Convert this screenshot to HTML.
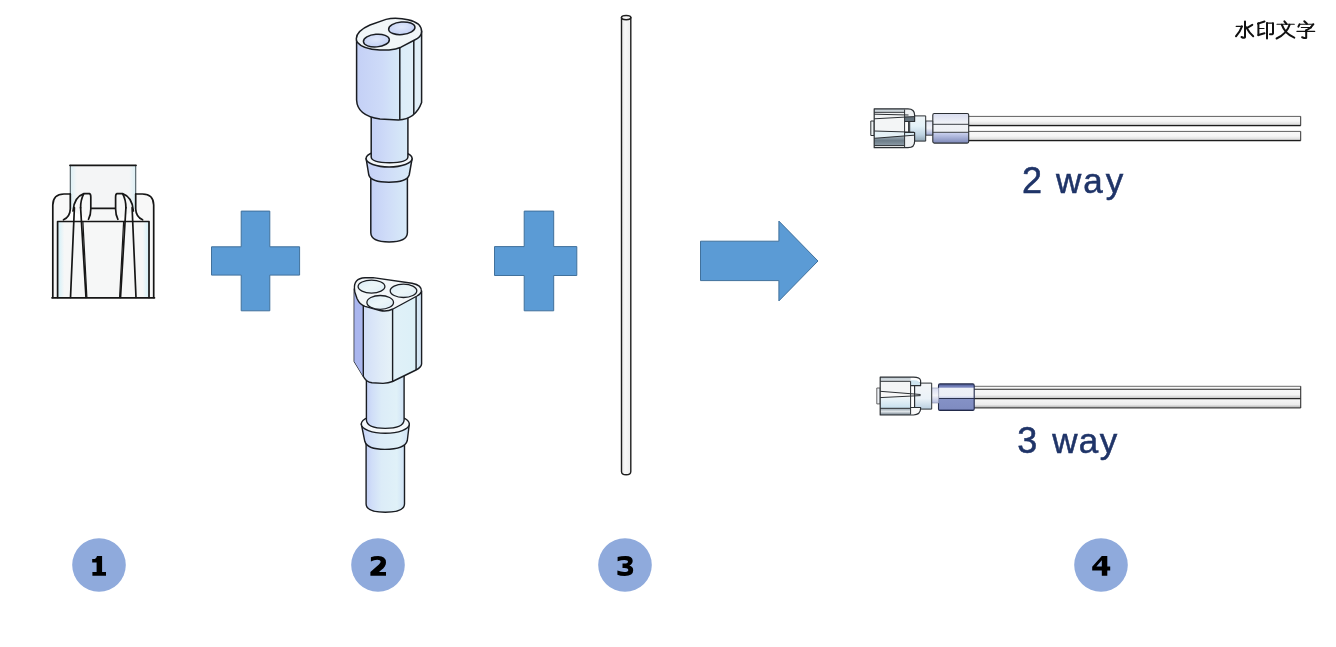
<!DOCTYPE html>
<html><head><meta charset="utf-8">
<style>
html,body{margin:0;padding:0;background:#fff;width:1336px;height:647px;overflow:hidden}
svg{display:block;position:absolute;left:0;top:0;will-change:transform}
</style></head>
<body>
<svg width="1336" height="647" viewBox="0 0 1336 647">
<defs>
  <linearGradient id="gTubeV" x1="0" y1="0" x2="1" y2="0">
    <stop offset="0" stop-color="#c4d0f6"/><stop offset="0.45" stop-color="#cfdcf8"/><stop offset="1" stop-color="#d8ebf8"/>
  </linearGradient>
  <linearGradient id="gBody2" x1="0" y1="0" x2="1" y2="0">
    <stop offset="0" stop-color="#c4d0f6"/><stop offset="0.4" stop-color="#cedbf8"/><stop offset="0.66" stop-color="#d6e9f8"/><stop offset="0.7" stop-color="#dcedf9"/><stop offset="1" stop-color="#e2f0f9"/>
  </linearGradient>
  <linearGradient id="gBody3" x1="0" y1="0" x2="1" y2="0">
    <stop offset="0" stop-color="#aab6ee"/><stop offset="0.134" stop-color="#b4c0f0"/><stop offset="0.14" stop-color="#d2def8"/><stop offset="0.4" stop-color="#e0ecf8"/><stop offset="0.569" stop-color="#e6f2f8"/><stop offset="0.575" stop-color="#e0f1f8"/><stop offset="0.9" stop-color="#dcf0f8"/><stop offset="0.92" stop-color="#d8eaf6"/><stop offset="1" stop-color="#d0e2f4"/>
  </linearGradient>
  <radialGradient id="gHole" cx="0.5" cy="0.4" r="0.6">
    <stop offset="0" stop-color="#dfe8fa"/><stop offset="1" stop-color="#c3d0f4"/>
  </radialGradient>
  <linearGradient id="gPipe" x1="0" y1="0" x2="0" y2="1">
    <stop offset="0" stop-color="#f8f8f8"/><stop offset="0.5" stop-color="#f6f6f6"/><stop offset="0.8" stop-color="#e2e2e2"/><stop offset="1" stop-color="#9a9a9a"/>
  </linearGradient>
  <linearGradient id="gPipe3" x1="0" y1="0" x2="0" y2="1">
    <stop offset="0" stop-color="#f8f8f8"/><stop offset="0.14" stop-color="#f8f8f8"/><stop offset="0.4" stop-color="#f4f4f4"/><stop offset="0.52" stop-color="#cfcfcf"/><stop offset="0.56" stop-color="#f8f8f8"/><stop offset="0.85" stop-color="#ececec"/><stop offset="1" stop-color="#a8a8a8"/>
  </linearGradient>
  <linearGradient id="gSleeve2" x1="0" y1="0" x2="0" y2="1">
    <stop offset="0" stop-color="#d8dcef"/><stop offset="0.35" stop-color="#f2f4f8"/><stop offset="0.63" stop-color="#eef0f4"/><stop offset="0.66" stop-color="#c9d0ee"/><stop offset="1" stop-color="#7d88b8"/>
  </linearGradient>
  <linearGradient id="gSleeve3" x1="0" y1="0" x2="0" y2="1">
    <stop offset="0" stop-color="#4d5a92"/><stop offset="0.08" stop-color="#6a77b2"/><stop offset="0.13" stop-color="#8a95c8"/><stop offset="0.16" stop-color="#eef1f7"/><stop offset="0.45" stop-color="#eceff6"/><stop offset="0.53" stop-color="#c8cfe8"/><stop offset="0.56" stop-color="#8592c6"/><stop offset="0.93" stop-color="#7f8cc1"/><stop offset="1" stop-color="#56629a"/>
  </linearGradient>
  <linearGradient id="gNeck" x1="0" y1="0" x2="0" y2="1">
    <stop offset="0" stop-color="#dfe3f3"/><stop offset="0.5" stop-color="#f3f4f8"/><stop offset="1" stop-color="#9ba6d2"/>
  </linearGradient>
  <linearGradient id="gBlock" x1="0" y1="0" x2="0" y2="1">
    <stop offset="0" stop-color="#eef4f7"/><stop offset="0.4" stop-color="#e4f2f9"/><stop offset="0.75" stop-color="#bed3e2"/><stop offset="1" stop-color="#8ea2b2"/>
  </linearGradient>
  <linearGradient id="gCap" x1="0" y1="0" x2="0" y2="1">
    <stop offset="0" stop-color="#c4ccd2"/><stop offset="0.15" stop-color="#e9eef1"/><stop offset="0.45" stop-color="#f4f6f7"/><stop offset="0.7" stop-color="#d3e5ef"/><stop offset="0.85" stop-color="#8c9ca8"/><stop offset="1" stop-color="#5a6670"/>
  </linearGradient>
  <linearGradient id="gRod" x1="0" y1="0" x2="1" y2="0">
    <stop offset="0" stop-color="#e6e6e6"/><stop offset="0.4" stop-color="#f8f8f8"/><stop offset="1" stop-color="#ececec"/>
  </linearGradient>
  <linearGradient id="gCapBandT" x1="0" y1="0" x2="0" y2="1">
    <stop offset="0" stop-color="#b9c4cb"/><stop offset="1" stop-color="#e4eaee"/>
  </linearGradient>
  <linearGradient id="gCapBandB" x1="0" y1="0" x2="0" y2="1">
    <stop offset="0" stop-color="#a9b8c2"/><stop offset="0.5" stop-color="#6d7d89"/><stop offset="1" stop-color="#8c9ba6"/>
  </linearGradient>
  <linearGradient id="gCyanLow" x1="0" y1="0" x2="0" y2="1">
    <stop offset="0" stop-color="#eef6fa"/><stop offset="1" stop-color="#c6e0ee"/>
  </linearGradient>
  <linearGradient id="gCapBandB3" x1="0" y1="0" x2="0" y2="1">
    <stop offset="0" stop-color="#8e9ea9"/><stop offset="0.5" stop-color="#e0e6ea"/><stop offset="1" stop-color="#6a7884"/>
  </linearGradient>
  <linearGradient id="gBlock3" x1="0" y1="0" x2="0" y2="1">
    <stop offset="0" stop-color="#f4f6f8"/><stop offset="0.6" stop-color="#eaf2f8"/><stop offset="1" stop-color="#b9cfe0"/>
  </linearGradient>
  <linearGradient id="gNeck3" x1="0" y1="0" x2="0" y2="1">
    <stop offset="0" stop-color="#d8dcf2"/><stop offset="0.5" stop-color="#f2f3f8"/><stop offset="1" stop-color="#b4bce0"/>
  </linearGradient>
  <linearGradient id="gHole3" x1="0" y1="0" x2="1" y2="1">
    <stop offset="0" stop-color="#d9ebf6"/><stop offset="0.5" stop-color="#ecf6f8"/><stop offset="1" stop-color="#dcecf6"/>
  </linearGradient>
  <linearGradient id="gTubeV3" x1="0" y1="0" x2="1" y2="0">
    <stop offset="0" stop-color="#c4d0f6"/><stop offset="0.15" stop-color="#d0def8"/><stop offset="0.4" stop-color="#dcecf8"/><stop offset="0.8" stop-color="#e0f1f8"/><stop offset="1" stop-color="#cfe2f6"/>
  </linearGradient>
  <linearGradient id="gCapTop" x1="0" y1="0" x2="1" y2="0">
    <stop offset="0" stop-color="#dcf0f6"/><stop offset="0.1" stop-color="#f4f5f6"/><stop offset="0.9" stop-color="#f4f5f6"/><stop offset="1" stop-color="#dcf0f6"/>
  </linearGradient>
  <linearGradient id="gBlueL" x1="0" y1="0" x2="1" y2="0">
    <stop offset="0" stop-color="#d4f0f8"/><stop offset="1" stop-color="#f6f7f7"/>
  </linearGradient>
  <linearGradient id="gBlueR" x1="1" y1="0" x2="0" y2="0">
    <stop offset="0" stop-color="#d4f0f8"/><stop offset="1" stop-color="#f6f7f7"/>
  </linearGradient>
</defs>
<!-- plus 1 -->
<path d="M241.2,211.1 H269.8 V246.8 H299.6 V275.1 H269.8 V310.8 H241.2 V275.1 H211.5 V246.8 H241.2 Z" fill="#5b9bd5" stroke="#41719c" stroke-width="1"/>
<!-- plus 2 -->
<path d="M524.2,211.1 H553.7 V246.6 H576.8 V275.5 H553.7 V310.8 H524.2 V275.5 H494.5 V246.6 H524.2 Z" fill="#5b9bd5" stroke="#41719c" stroke-width="1"/>
<!-- arrow -->
<path d="M700.5,241.2 H778.9 V221.1 L818,261 L778.9,300.9 V280.6 H700.5 Z" fill="#5b9bd5" stroke="#41719c" stroke-width="1"/>

<!-- circles -->
<g fill="#8faadc">
<circle cx="99" cy="565" r="26.8"/>
<circle cx="378" cy="565" r="26.8"/>
<circle cx="625" cy="565" r="26.8"/>
<circle cx="1101" cy="565" r="26.8"/>
</g>
<g fill="#000">
<path d="M97,555.9 H102.1 V572 H106 V575.7 H92.4 V572 H96.6 V562.6 H92.2 V558.9 H94.8 Q96.4,558.4 97,555.9 Z"/>
<path d="M370.9,557.2 Q374,555.9 378.2,555.9 Q386,555.9 386,562.5 Q386,566.5 381,570.3 L379,572 H386 V575.7 H370.4 V572 L377.2,566 Q380.6,563.2 380.6,561.8 Q380.6,559.8 377.2,559.8 Q374,559.8 370.9,561.6 Z"/>
<path d="M617.6,557 Q621,555.9 625.5,555.9 Q632.7,555.9 632.7,560.8 Q632.7,564 629.3,565.6 Q633.2,566.8 633.2,570.3 Q633.2,575.9 624.8,575.9 Q620,575.9 617.4,574.7 V570.5 Q621,571.9 624.3,571.9 Q628.3,571.9 628.3,569.9 Q628.3,567.9 624.5,567.9 H622.5 V563.6 H624.5 Q628,563.6 628,561.5 Q628,559.9 624.6,559.9 Q621,559.9 617.6,561.2 Z"/>
<path fill-rule="evenodd" d="M1101.8,555.9 H1107.3 V566.6 H1110.2 V570.5 H1107.3 V575.7 H1101.8 V570.5 H1092.2 V566.8 Z M1101.8,560.3 L1096.4,566.6 H1101.8 Z"/>
</g>
<!-- watermark -->
<g fill="none" stroke="#111" stroke-linecap="round" stroke-linejoin="round">
<g stroke-width="2">
<path d="M1245,21.5 V37.2 Q1244.5,38.5 1241.5,37"/>
<path d="M1242,26.4 Q1240,32 1236,36.3"/>
<path d="M1247.2,27.8 L1252.3,24.8"/>
<path d="M1246.3,27.2 Q1249,32.5 1253.2,36.3"/>
<path d="M1258,23.6 L1264.5,21.5"/>
<path d="M1258.4,23.3 V35.2"/>
<path d="M1258.4,35 L1264.5,33.3"/>
<path d="M1267,23 V38.5"/>
<path d="M1273,23.3 V33.5 Q1273,34.5 1270,34.2"/>
<path d="M1284.4,21.4 L1286.5,24"/>
<path d="M1281.8,24.7 Q1285,34 1294.3,37.6"/>
<path d="M1289.6,24.7 Q1287,33.5 1276.6,38.5"/>
<path d="M1304.3,21.2 L1306.9,23.8"/>
<path d="M1299.5,24.4 L1298.4,26.6"/>
<path d="M1313.4,24.2 L1310.8,27.3"/>
<path d="M1311,27.5 L1306,30.5"/>
<path d="M1306.2,30.3 V37.8 Q1305.5,38.5 1302.1,37.2"/>
</g>
<g stroke-width="1.1">
<path d="M1236.2,26.4 H1242"/>
<path d="M1258.8,28.5 H1264"/>
<path d="M1267,23.1 H1273"/>
<path d="M1277,24.2 H1294.3"/>
<path d="M1299.5,24.2 H1313.4"/>
<path d="M1301.3,27.5 H1311"/>
<path d="M1296.9,31.4 H1314.7"/>
</g>
</g>

<!-- labels -->
<g font-family="Liberation Sans" font-size="35" fill="#1f3468" stroke="#1f3468" stroke-width="0.5">
<text transform="translate(1022 192.7) scale(1.03 1.08)">2</text><text x="1056" y="192.7">w</text><text x="1083.2" y="192.7">a</text><text x="1105.8" y="192.7">y</text>
<text transform="translate(1017.3 452.7) scale(1.03 1.08)">3</text><text x="1052.3" y="452.7">w</text><text x="1078.8" y="452.7">a</text><text x="1099.8" y="452.7">y</text>
</g>

<!-- object 1 -->
<g id="obj1" fill="none" stroke="#161616" stroke-width="1.7" stroke-linejoin="round" stroke-linecap="round">
  <rect x="70.3" y="165" width="65.4" height="44" fill="url(#gCapTop)" stroke="none"/>
  <path d="M70.3,209 V165.3 M135.7,165.3 V209" stroke="#4a5a60" stroke-width="1.1"/>
  <path d="M70,165.3 H136" stroke-width="1.8"/>
  <path d="M52.8,297.5 V205 Q53,194 64,194 H70.3 V209 Q70,217 63.5,219.8 H57.6 V297.5 Z" fill="#f8f8f8" stroke="none"/>
  <path d="M153.7,297.5 V205 Q153.5,194 142.5,194 H135.7 V209 Q136,217 142.6,219.8 H148.5 V297.5 Z" fill="#f8f8f8" stroke="none"/>
  <rect x="57.6" y="221" width="90.9" height="76.5" fill="#f6f7f7" stroke="none"/>
  <rect x="58.3" y="221.8" width="6" height="75" fill="url(#gBlueL)" stroke="none"/>
  <rect x="142.7" y="221.8" width="6" height="75" fill="url(#gBlueR)" stroke="none"/>
  <rect x="90.5" y="208" width="26" height="13" fill="#f6f7f7" stroke="none"/>
  <path d="M52.8,297.5 V205 Q53,194 64,194 H70.3"/>
  <path d="M70.3,194 V209 Q70,217 63.5,219.8"/>
  <path d="M153.7,297.5 V205 Q153.5,194 142.5,194 H135.7"/>
  <path d="M135.7,194 V209 Q136,217 142.6,219.8"/>
  <path d="M57.6,297.5 V221.5 H149 V297.5"/>
  <path d="M52,297.8 H154.5" stroke-width="1.7"/>
  <path d="M90.4,208.3 H116.3"/>
  <!-- left finger -->
  <path d="M73,211 Q74,197 83.9,193.6 H89.4 Q90.8,194 90.8,197 V209 Q90.8,215 88.5,219.3" fill="#f7f8f8"/>
  <path d="M83.6,194.2 Q80.6,200 80.6,207.7"/>
  <path d="M74.4,207.7 L70.5,297.5"/>
  <path d="M80.6,207.7 L86,297.5"/>
  <path d="M82.9,221.7 L86.9,297.5" stroke-width="1.2"/>
  <!-- right finger -->
  <path d="M133.4,211 Q132.4,197 122.5,193.6 H117 Q115.6,194 115.6,197 V209 Q115.6,215 117.9,219.3" fill="#f7f8f8"/>
  <path d="M122.8,194.2 Q125.9,200 125.9,207.7"/>
  <path d="M132.1,207.7 L136,297.5"/>
  <path d="M125.9,207.7 L120.5,297.5"/>
  <path d="M123.6,221.7 L119.6,297.5" stroke-width="1.2"/>
</g>

<!-- object 2a: 2-way connector -->
<g id="obj2a" stroke="#1a1d22" stroke-width="1.5" stroke-linejoin="round">
  <!-- lower tube -->
  <path d="M370.8,176 V232.8 Q371,242 389.1,242 Q407.2,242 407.4,232.8 V176 Z" fill="url(#gTubeV)"/>
  <!-- ring -->
  <path d="M366.1,158.5 L368.8,175 Q371,182.2 388.9,182.2 Q407,182.2 409.2,175 L412.1,158.5 Z" fill="url(#gTubeV)"/>
  <ellipse cx="389.1" cy="158.5" rx="23" ry="8.5" fill="#f4f8fb"/>
  <!-- upper tube -->
  <path d="M371.2,115 V157 Q371.5,162.6 389.5,162.8 Q407.5,162.6 407.9,157 V115 Z" fill="url(#gTubeV)"/>
  <!-- body -->
  <path d="M356.6,40 V100 C357,111 366,117 380,119 L398.4,120 C410,119.5 418,112.5 421.6,102.5 V31 Z" fill="url(#gBody2)"/>
  <path d="M399.8,48 V119.8 M413.8,40 V114" fill="none"/>
  <!-- top face -->
  <path d="M356.3,38.7 C356.5,33 362,28.5 370,25 L386,19.4 C392,17.8 398,18.2 402,18.7 L408,19.8 C416,21.5 421.6,25 421.6,31.5 C421.6,36 418,38.5 414.6,40 L401,47.2 C398,48.5 394,49.5 389,50 L379.7,50 C370,49.5 361,47 357.5,42.5 C356.6,41.3 356.3,40 356.3,38.7 Z" fill="#f1f6f8"/>
  <ellipse cx="376.4" cy="40.6" rx="13" ry="6.3" fill="url(#gHole)" transform="rotate(-5 376.4 40.6)" stroke-width="1.5"/>
  <ellipse cx="401.8" cy="28.3" rx="13.2" ry="6.3" fill="url(#gHole)" transform="rotate(-5 401.8 28.3)" stroke-width="1.5"/>
</g>

<!-- object 2b: 3-way connector -->
<g id="obj2b" stroke="#1a1d22" stroke-width="1.4" stroke-linejoin="round">
  <path d="M366.1,440 V504 Q366.3,512.2 385.3,512.2 Q404.3,512.2 404.5,504 V440 Z" fill="url(#gTubeV3)"/>
  <path d="M361.3,424 L364.8,441.3 Q367,449.4 384.9,449.4 Q405,449.4 407.3,440.5 L409.3,424 Z" fill="url(#gTubeV3)"/>
  <ellipse cx="385.3" cy="424" rx="24" ry="9.3" fill="#f4f8fb"/>
  <path d="M366.4,376 V420 Q367,428.2 385.2,428.4 Q403.5,428.2 404.1,420 V376 Z" fill="url(#gTubeV3)"/>
  <!-- body -->
  <path d="M354.3,289 V361.5 L363.4,376.5 C365,380 367,382 372,382.8 L383,383.4 C387,383.2 390,382.5 392.5,381.5 L416,370 C419,368.5 421.5,366.5 421.6,363.9 V291 Z" fill="url(#gBody3)"/>
  <path d="M354.3,289 V361.5 L363.3,376.5 V305 Z" fill="#aab6ee" stroke="none"/>
  <path d="M363.3,305 V376.5 M392.6,309.5 V381.5 M416.1,296.5 V370" fill="none"/>
  
  <!-- top face -->
  <path d="M354.5,289 C353.8,282 357,278.3 365,277.8 L373,277.6 L412,283.2 C419,284.5 421.8,288 421.4,291.5 C421,293.5 419.5,294.5 417,296 L393,309 C389,311 384.5,311.5 380,310.5 L365,306.4 C361,305 358.5,302 357,298.5 L354.8,292 Z" fill="#f3f7f9"/>
  <ellipse cx="371.5" cy="286.6" rx="13.4" ry="6.5" fill="url(#gHole3)" stroke-width="1.3"/>
  <ellipse cx="403.5" cy="290.8" rx="13.3" ry="6.7" fill="url(#gHole3)" stroke-width="1.3"/>
  <ellipse cx="380.2" cy="302.4" rx="13.3" ry="6.9" fill="url(#gHole3)" stroke-width="1.3"/>
</g>

<!-- assembly 2-way -->
<g id="asm2" stroke="#2b2f33" stroke-width="1" stroke-linejoin="round">
  <rect x="966" y="116.3" width="334.7" height="9.3" fill="url(#gPipe)" stroke="none"/>
  <rect x="966" y="131.3" width="334.7" height="9.3" fill="url(#gPipe)" stroke="none"/>
  <path d="M966,116.4 H1300.7 M966,131.4 H1300.7" stroke="#5e5e5e" stroke-width="1"/>
  <path d="M966,125.6 H1300.7 M966,140.6 H1300.7" stroke="#1c1c1c" stroke-width="1.2"/>
  <path d="M1300.7,116.4 V125.6 M1300.7,131.4 V140.6" stroke="#333" stroke-width="1"/>
  <rect x="932.8" y="113.5" width="35.9" height="29.6" rx="1.5" fill="url(#gSleeve2)" stroke-width="1.1"/>
  <path d="M933,124.3 H968.5 M933,132.3 H968.5" stroke="#3a3e44" stroke-width="1"/>
  <rect x="925.7" y="121" width="7" height="14.2" fill="url(#gNeck)" stroke-width="0.9"/>
  <rect x="909.7" y="115.9" width="16" height="25.2" fill="url(#gBlock)" stroke-width="1"/>
  <rect x="870.8" y="121" width="3.4" height="14.5" fill="#eef2f4" stroke-width="1"/>
  <!-- cap body -->
  <rect x="874.2" y="108.8" width="30.4" height="38.9" fill="#f3f5f6" stroke="none"/>
  <rect x="874.2" y="108.8" width="30.4" height="3.6" fill="url(#gCapBandT)" stroke="none"/>
  <path d="M874.2,138.3 L904.6,135.6 V145.6 H874.2 Z" fill="url(#gCapBandB)" stroke="none"/>
  <path d="M874.2,131 L904.6,132 V135.6 L874.2,138.3 Z" fill="#e6f2f7" stroke="none"/>
  <!-- claws -->
  <path d="M904.6,108.8 H908 Q914.6,108.8 914.6,115 V121.5 H904.6 Z" fill="#eef1f3" stroke="none"/>
  <path d="M904.6,116.5 L914.6,116.8 V121.5 H904.6 Z" fill="#65737d" stroke="none"/>
  <path d="M904.6,132.5 H914.6 V141.5 Q914.6,147.7 908,147.7 H904.6 Z" fill="#eef1f3" stroke="none"/>
  <path d="M904.6,132.3 L914.6,132.8 V135 L904.6,135.6 Z" fill="#dceef6" stroke="none"/>
  <!-- lines -->
  <path d="M904.6,121.5 H914.6 V115 Q914.6,108.8 908,108.8 H874.2 V147.7 H908 Q914.6,147.7 914.6,141.5 V132.5 H904.6" fill="none" stroke-width="1.2"/>
  <path d="M874.2,112.3 H904.6 M874.2,118.8 L914.2,116.6 M874.2,114.2 L908.5,115 M874.2,131 L914.2,132.2 M874.2,138.3 L914.2,135.2 M874.2,145.6 H904.6 M904.6,109.5 V147 M908.6,121.5 V132.5" fill="none" stroke-width="1"/>
</g>

<!-- assembly 3-way -->
<g id="asm3" stroke="#2b2f33" stroke-width="1" stroke-linejoin="round">
  <rect x="972" y="386.2" width="328.7" height="21.7" fill="url(#gPipe3)" stroke="none"/>
  <path d="M972,386.3 H1300.7" stroke="#6a6a6a" stroke-width="1" fill="none"/>
  <path d="M972,389.3 H1300.7 M972,398.6 H1300.7" stroke="#262626" stroke-width="1.1" fill="none"/>
  <path d="M972,407.9 H1300.7" stroke="#444" stroke-width="1.2" fill="none"/>
  <path d="M1300.7,386.3 V407.9" stroke="#333" stroke-width="1.1" fill="none"/>
  <rect x="938.5" y="383.9" width="35.7" height="26.5" rx="1.5" fill="url(#gSleeve3)" stroke="#222a4a" stroke-width="1.1"/>
  <path d="M938.7,398.5 H974" stroke="#2a3150" stroke-width="1"/>
  <rect x="931.7" y="388" width="7" height="15" fill="url(#gNeck3)" stroke="none"/>
  <path d="M931.7,388 H938.7 M931.7,403 H938.7" stroke="#9aa0b8" stroke-width="0.7"/>
  <rect x="914.6" y="383.1" width="17.1" height="26" fill="url(#gBlock3)" stroke-width="1"/>
  <rect x="876.8" y="388" width="3.4" height="15.9" fill="#eef1f6" stroke="#555" stroke-width="0.9"/>
  <!-- cap body -->
  <rect x="880.2" y="377.2" width="30.4" height="37.8" fill="#f3f5f6" stroke="none"/>
  <rect x="880.2" y="377.2" width="30.4" height="4.1" fill="url(#gCapBandT)" stroke="none"/>
  <rect x="880.2" y="397.6" width="30.4" height="10.6" fill="url(#gCyanLow)" stroke="none"/>
  <rect x="880.2" y="408.2" width="30.4" height="6.8" fill="url(#gCapBandB3)" stroke="none"/>
  <path d="M880.2,391.3 L920.6,395 L880.2,397.6 Z" fill="#f8f8f8" stroke="none"/>
  <!-- claws -->
  <path d="M910.6,380.2 H914 Q920.6,380.2 920.6,385.7 H910.6 Z" fill="#cfe5f0" stroke="none"/>
  <path d="M910.6,408 H920.6 Q920.6,413.5 914,414.4 H910.6 Z" fill="#fafafa" stroke="none"/>
  <path d="M910.6,385.7 H920.6 V380.5 Q920,377.2 913.5,377.2 H880.2 V415 H913.5 Q920.6,414.5 920.6,408.5 V407.5 H910.6" fill="none" stroke-width="1.2"/>
  <path d="M880.2,381.3 H910.6 M880.2,391.3 L920.6,394.5 M880.2,397.6 L920.6,395.6 M880.2,408.3 H910.6 M910.6,381.3 V414.5 M914.6,385.7 V407.5" fill="none" stroke-width="1"/>
</g>

<!-- tube 3 -->
<path d="M621.5,17.6 V471.5 Q621.5,474.8 626.15,474.8 Q630.8,474.8 630.8,471.5 V17.6 Z" fill="url(#gRod)" stroke="#1e1e1e" stroke-width="1.4"/>
<ellipse cx="626.15" cy="17.6" rx="4.65" ry="2.1" fill="#fafafa" stroke="#1e1e1e" stroke-width="1.5"/>

</svg>
</body></html>
